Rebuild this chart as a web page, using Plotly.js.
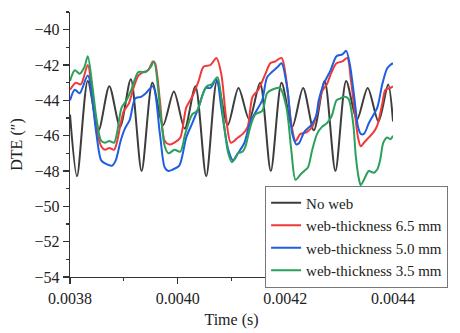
<!DOCTYPE html>
<html>
<head>
<meta charset="utf-8">
<script src="https://cdn.plot.ly/plotly-3.0.1.min.js"></script>
<style>html,body{margin:0;padding:0;background:#fff;}#chart{width:460px;height:333px;}</style>
</head>
<body>
<div id="chart"></div>
<script>
// Series names
const seriesNames = ["No web", "web-thickness 6.5 mm", "web-thickness 5.0 mm", "web-thickness 3.5 mm"];

// No web
const tNoWeb = [0.003800,0.003813,0.003833,0.003853,0.003873,0.003893,0.003913,0.003933,0.003953,0.003973,0.003993,0.004013,0.004033,0.004053,0.004073,0.004093,0.004113,0.004133,0.004153,0.004173,0.004193,0.004213,0.004233,0.004253,0.004273,0.004293,0.004313,0.004333,0.004353,0.004373,0.004391,0.004400];
const yNoWeb = [-44.8,-48.3,-42.9,-45.7,-43.2,-45.5,-42.8,-48.0,-43.0,-45.4,-43.5,-45.6,-43.2,-48.3,-42.9,-45.4,-43.3,-45.1,-43.0,-48.0,-43.0,-45.5,-43.3,-45.7,-42.9,-48.0,-42.9,-45.1,-43.3,-45.2,-43.1,-45.2];

// web-thickness 6.5 mm
const t65 = [0.003800,0.003811,0.003820,0.003833,0.003842,0.003849,0.003858,0.003865,0.003873,0.003882,0.003887,0.003893,0.003900,0.003909,0.003918,0.003927,0.003936,0.003945,0.003954,0.003958,0.003967,0.003976,0.003985,0.003994,0.004005,0.004016,0.004027,0.004039,0.004048,0.004061,0.004072,0.004081,0.004090,0.004099,0.004112,0.004121,0.004130,0.004139,0.004150,0.004163,0.004172,0.004181,0.004193,0.004202,0.004211,0.004219,0.004228,0.004240,0.004250,0.004259,0.004268,0.004277,0.004286,0.004295,0.004306,0.004315,0.004322,0.004328,0.004335,0.004340,0.004346,0.004355,0.004364,0.004371,0.004380,0.004386,0.004395,0.004400];
const y65 = [-43.4,-43.0,-43.1,-42.0,-44.0,-45.6,-46.6,-46.8,-46.7,-46.8,-46.4,-45.5,-44.6,-44.2,-43.3,-42.6,-42.4,-42.3,-41.8,-41.9,-44.0,-46.3,-46.5,-46.4,-46.1,-44.4,-43.8,-42.9,-42.1,-42.0,-41.6,-42.5,-45.0,-46.4,-46.1,-45.9,-45.5,-43.8,-43.4,-42.5,-41.9,-41.8,-41.6,-42.9,-45.3,-46.3,-45.9,-45.8,-45.5,-44.7,-43.5,-43.1,-42.4,-41.9,-41.8,-41.6,-42.9,-44.4,-46.1,-46.6,-46.4,-46.1,-45.8,-45.4,-44.2,-43.4,-43.3,-43.2];

// web-thickness 5.0 mm
const t50 = [0.003800,0.003809,0.003818,0.003833,0.003849,0.003858,0.003867,0.003878,0.003885,0.003894,0.003902,0.003911,0.003921,0.003932,0.003941,0.003954,0.003967,0.003976,0.003983,0.003992,0.004003,0.004016,0.004027,0.004039,0.004052,0.004061,0.004072,0.004081,0.004094,0.004103,0.004112,0.004124,0.004135,0.004148,0.004157,0.004166,0.004175,0.004186,0.004193,0.004204,0.004213,0.004221,0.004226,0.004235,0.004248,0.004257,0.004262,0.004271,0.004284,0.004295,0.004306,0.004313,0.004320,0.004328,0.004335,0.004340,0.004346,0.004355,0.004364,0.004371,0.004380,0.004389,0.004395,0.004400];
const y50 = [-44.0,-43.4,-43.6,-42.6,-45.9,-47.4,-47.6,-47.7,-47.4,-46.3,-45.6,-45.1,-43.9,-43.8,-43.6,-43.2,-45.9,-47.8,-48.0,-47.9,-47.7,-46.1,-45.3,-44.4,-43.3,-43.3,-42.8,-44.4,-46.8,-47.4,-47.0,-46.4,-45.2,-44.5,-44.0,-42.7,-42.4,-42.1,-41.9,-43.4,-45.9,-46.5,-46.4,-45.8,-45.4,-44.9,-44.0,-43.1,-42.3,-41.5,-41.4,-41.2,-42.0,-43.8,-45.5,-45.9,-45.9,-45.3,-44.8,-44.4,-43.1,-42.2,-42.0,-41.9];

// web-thickness 3.5 mm
const t35 = [0.003800,0.003809,0.003818,0.003827,0.003833,0.003842,0.003849,0.003858,0.003865,0.003873,0.003882,0.003887,0.003896,0.003905,0.003914,0.003927,0.003940,0.003950,0.003956,0.003969,0.003976,0.003983,0.003994,0.004005,0.004014,0.004027,0.004036,0.004045,0.004054,0.004063,0.004074,0.004085,0.004094,0.004101,0.004112,0.004121,0.004126,0.004135,0.004144,0.004157,0.004166,0.004175,0.004190,0.004202,0.004211,0.004219,0.004228,0.004235,0.004242,0.004250,0.004259,0.004268,0.004277,0.004286,0.004295,0.004302,0.004309,0.004317,0.004326,0.004331,0.004337,0.004340,0.004346,0.004355,0.004364,0.004371,0.004376,0.004382,0.004389,0.004395,0.004400];
const y35 = [-42.9,-42.3,-42.5,-42.1,-41.5,-43.3,-45.0,-46.3,-46.4,-46.3,-46.4,-45.9,-44.4,-44.0,-43.4,-42.4,-42.4,-42.1,-41.8,-45.0,-46.6,-47.0,-46.8,-46.9,-45.9,-44.8,-44.6,-43.8,-43.2,-43.1,-42.7,-45.1,-47.0,-47.5,-47.0,-46.9,-46.6,-45.5,-44.8,-44.6,-43.6,-43.4,-43.3,-44.4,-46.8,-48.5,-48.2,-48.0,-47.8,-46.8,-45.9,-45.5,-45.3,-44.9,-44.0,-43.9,-43.8,-43.9,-45.3,-47.2,-48.5,-48.8,-48.5,-48.0,-48.1,-47.9,-47.4,-46.4,-46.1,-46.2,-46.0];

// Axis ticks
const xTicks = [0.0038, 0.0040, 0.0042, 0.0044];
const xTickLabels = ["0.0038", "0.0040", "0.0042", "0.0044"];
const yTicks = [-54, -52, -50, -48, -46, -44, -42, -40];

const colors = ["#3d3d3d", "#f03a3a", "#1d5fe0", "#2aa05a"];
const xs = [tNoWeb, t65, t50, t35];
const ys = [yNoWeb, y65, y50, y35];

const traces = seriesNames.map((n, i) => ({
  x: xs[i], y: ys[i], name: n, type: "scatter", mode: "lines",
  line: {color: colors[i], width: 2, shape: "spline", smoothing: 0.8}
}));

const axisCommon = {
  showline: true, linecolor: "#333", linewidth: 1.3,
  ticks: "outside", ticklen: 6, tickwidth: 1.3, tickcolor: "#333",
  showgrid: false, zeroline: false, mirror: false,
  tickfont: {family: "Liberation Serif", size: 16, color: "#222"}
};

const layout = {
  width: 460, height: 333,
  margin: {l: 70, r: 59, t: 12, b: 56},
  paper_bgcolor: "#fff", plot_bgcolor: "#fff",
  font: {family: "Liberation Serif", size: 16, color: "#222"},
  showlegend: true,
  legend: {
    x: 0.604, y: 0.345, xanchor: "left", yanchor: "top",
    bgcolor: "#fff", bordercolor: "#777", borderwidth: 1,
    font: {family: "Liberation Serif", size: 15, color: "#222"},
    itemwidth: 30, tracegroupgap: 0
  },
  xaxis: Object.assign({}, axisCommon, {
    range: [0.0038, 0.0044],
    tickmode: "array", tickvals: xTicks, ticktext: xTickLabels,
    minor: {tickmode: "array", tickvals: [0.0039, 0.0041, 0.0043], ticks: "outside", ticklen: 3, tickwidth: 1.3, tickcolor: "#333"},
    title: {text: "Time (s)", font: {family: "Liberation Serif", size: 16, color: "#222"}, standoff: 8}
  }),
  yaxis: Object.assign({}, axisCommon, {
    range: [-54, -39],
    tickmode: "array", tickvals: yTicks,
    minor: {tickmode: "array", tickvals: [-53, -51, -49, -47, -45, -43, -41, -39], ticks: "outside", ticklen: 3, tickwidth: 1.3, tickcolor: "#333"},
    title: {text: "DTE (″)", font: {family: "Liberation Serif", size: 16, color: "#222"}, standoff: 8}
  })
};

Plotly.newPlot("chart", traces, layout, {staticPlot: true, displayModeBar: false});
</script>
</body>
</html>
